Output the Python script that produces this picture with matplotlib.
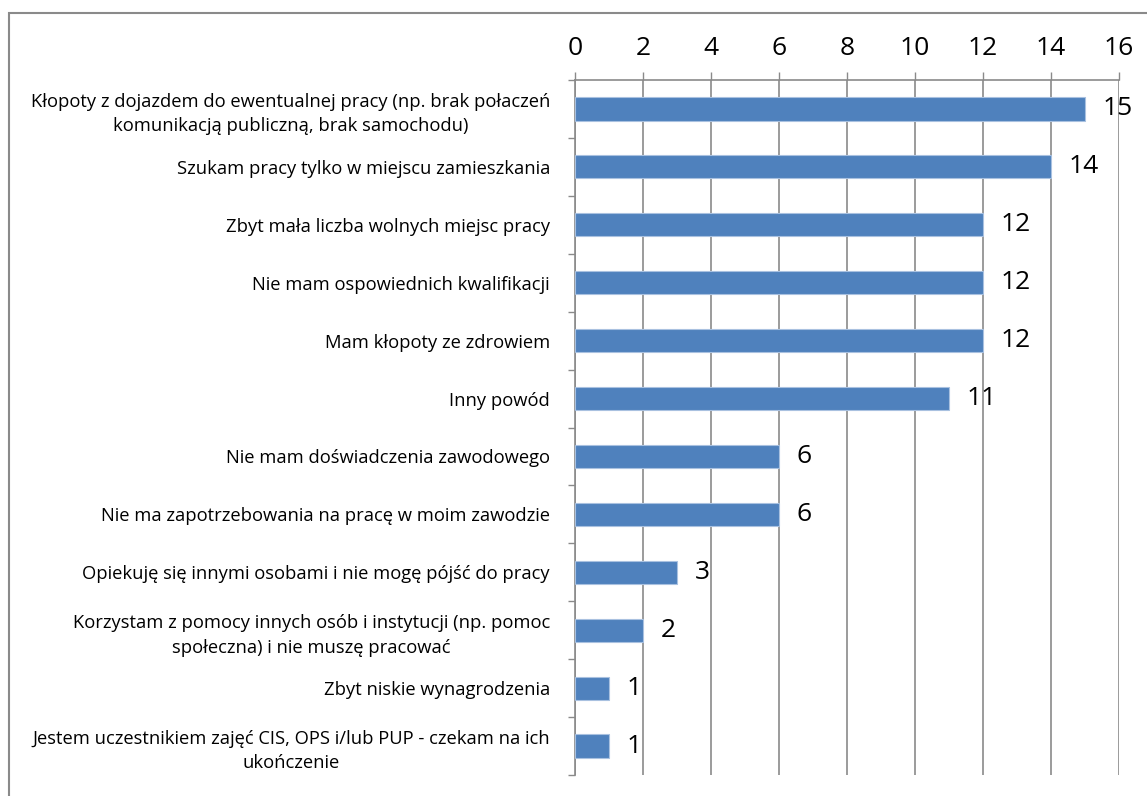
import matplotlib
matplotlib.use("Agg")
import matplotlib.pyplot as plt
from matplotlib.patches import Rectangle
import numpy as np

plt.rcParams['font.family'] = ['Open Sans', 'DejaVu Sans']

labels = [
    "Kłopoty z dojazdem do ewentualnej pracy (np. brak połaczeń\nkomunikacją publiczną, brak samochodu)",
    "Szukam pracy tylko w miejscu zamieszkania",
    "Zbyt mała liczba wolnych miejsc pracy",
    "Nie mam ospowiednich kwalifikacji",
    "Mam kłopoty ze zdrowiem",
    "Inny powód",
    "Nie mam doświadczenia zawodowego",
    "Nie ma zapotrzebowania na pracę w moim zawodzie",
    "Opiekuję się innymi osobami i nie mogę pójść do pracy",
    "Korzystam z pomocy innych osób i instytucji (np. pomoc\nspołeczna) i nie muszę pracować",
    "Zbyt niskie wynagrodzenia",
    "Jestem uczestnikiem zajęć CIS, OPS i/lub PUP - czekam na ich\nukończenie",
]
values = [15, 14, 12, 12, 12, 11, 6, 6, 3, 2, 1, 1]
x_ticks = [0, 2, 4, 6, 8, 10, 12, 14, 16]

W, H = 1147, 796
fig = plt.figure(figsize=(W / 100, H / 100), dpi=100)
ax = fig.add_axes([575 / W, 1 - 775 / H, (1119 - 575) / W, (775 - 80) / H])

# outer chart border
fig.patches.append(Rectangle((9 / W, -0.05), 1.1, 1 - 13 / H + 0.05,
                             transform=fig.transFigure, fill=False,
                             edgecolor="#8a8a8a", linewidth=1.5))

y = np.arange(len(values))
ax.barh(y, values, height=0.4, color="#4F81BD", edgecolor="#a9c1e0",
        linewidth=0.8, zorder=3)
for yi, v in zip(y, values):
    ax.annotate(str(v), (v, yi), xytext=(12.5, 0), textcoords="offset points",
                va="center", ha="left", fontsize=19, zorder=4)

ax.set_xlim(0, 16)
ax.set_ylim(len(values) - 0.5, -0.5)
ax.xaxis.tick_top()
ax.set_xticks(x_ticks)
ax.tick_params(axis="x", direction="out", length=6, width=1, color="#8a8a8a",
               labelsize=19, pad=8)
ax.grid(axis="x", color="#8a8a8a", linewidth=1.2, zorder=0)

ax.set_yticks(y)
ax.set_yticklabels(labels, fontsize=13.2, multialignment="center",
                   linespacing=1.45)
ax.set_yticks(np.arange(len(values) + 1) - 0.5, minor=True)
ax.tick_params(axis="y", which="major", length=0, pad=18)
ax.tick_params(axis="y", which="minor", direction="out", length=5, width=1,
               color="#8a8a8a")

for side in ["right", "bottom"]:
    ax.spines[side].set_visible(False)
for side in ["left", "top"]:
    ax.spines[side].set_color("#8a8a8a")
    ax.spines[side].set_linewidth(1.2)

fig.savefig("out.png", dpi=100)
